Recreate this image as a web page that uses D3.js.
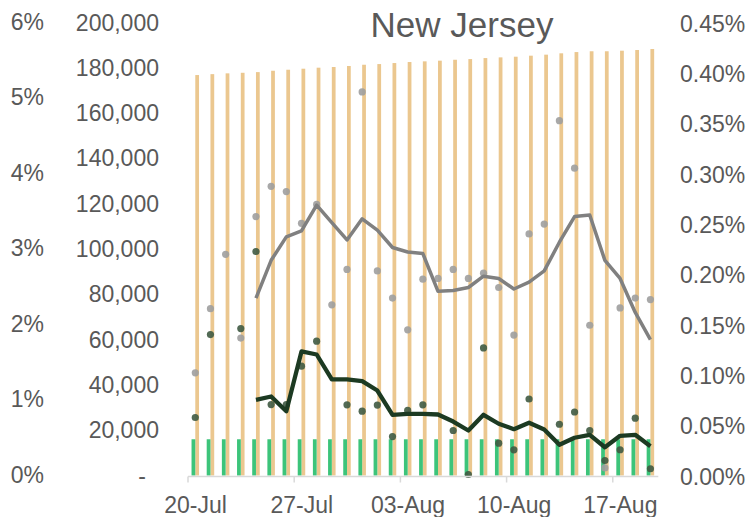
<!DOCTYPE html>
<html><head><meta charset="utf-8">
<script src="https://cdn.jsdelivr.net/npm/d3@7"></script>
<style>
body{margin:0;background:#fff}
text{font-family:"Liberation Sans", Arial, sans-serif;fill:#595959}
</style>
</head><body>
<svg id="c" width="749" height="517"></svg>
<script>
const dates = ["20-Jul","21-Jul","22-Jul","23-Jul","24-Jul","25-Jul","26-Jul","27-Jul","28-Jul","29-Jul","30-Jul","31-Jul",
  "01-Aug","02-Aug","03-Aug","04-Aug","05-Aug","06-Aug","07-Aug","08-Aug","09-Aug","10-Aug","11-Aug","12-Aug","13-Aug",
  "14-Aug","15-Aug","16-Aug","17-Aug","18-Aug","19-Aug"];
const tickDates = ["20-Jul","27-Jul","03-Aug","10-Aug","17-Aug"];
// cumulative count (tan bars, left count axis)
const totalBars = [176800,177200,177550,177800,178100,178700,179150,179600,180050,180350,180800,181350,
  181650,182100,182550,182850,183150,183550,183850,184300,184600,184900,185350,185800,186400,
  186950,187300,187300,187550,187850,188300];
// daily count (green bars, left count axis)
const greenBars = [16000,16000,16000,16000,16000,16000,16000,16000,16000,16000,16000,16000,16000,16000,16000,16000,
  16000,16000,16000,16000,16000,16000,16000,16000,16000,16000,16000,16000,16000,16000,16000];
// daily rate (grey dots, left % axis)
const greyDots = [1.36,2.21,2.93,1.82,3.43,3.83,3.76,3.34,3.59,2.26,2.73,5.08,2.71,2.35,1.93,2.60,2.61,2.73,2.61,2.68,
  2.49,1.86,3.20,3.33,4.70,4.07,1.99,0.10,2.22,2.35,2.33];
// 7-day average of grey series (left % axis)
const greyAvg = [null,null,null,null,2.35,2.85,3.16,3.24,3.58,3.35,3.12,3.40,3.25,3.02,2.96,2.94,2.44,2.45,2.49,2.64,
  2.61,2.47,2.56,2.71,3.09,3.43,3.45,2.85,2.61,2.16,1.80];
// daily rate (dark green dots, right % axis)
const darkDots = [0.0576,0.140,null,0.146,0.2225,0.0705,0.0705,0.1086,0.1334,null,0.0702,0.0639,0.0700,0.0387,0.0646,
  0.0702,null,0.0447,0.0010,0.1267,0.0321,0.0255,0.0760,null,0.0509,0.0631,0.0447,0.0149,0.0256,0.0569,0.0067];
// 7-day average of dark green series (right % axis)
const darkAvg = [null,null,null,null,0.0752,0.0785,0.0639,0.1232,0.1202,0.0954,0.0954,0.0937,0.0844,0.0603,0.0613,
  0.0613,0.0606,0.0536,0.0447,0.0603,0.0514,0.0460,0.0524,0.0457,0.0305,0.0375,0.0404,0.0281,0.0394,0.0404,0.0291];
const countTicks = [0,20000,40000,60000,80000,100000,120000,140000,160000,180000,200000];
const leftPctTicks = [0,1,2,3,4,5,6];
const rightPctTicks = [0,0.05,0.10,0.15,0.20,0.25,0.30,0.35,0.40,0.45];
const title = "New Jersey";

const svg = d3.select("#c");
const X0 = 188, X1 = 658.3, Y0 = 475.5, Y1 = 22.5;

const x = d3.scaleBand().domain(dates).range([X0, X1]).paddingInner(0).paddingOuter(0);
const xs = d3.scaleBand().domain(["g","t"]).range([0, x.bandwidth()]).paddingInner(0).paddingOuter(1.02);
const yCount = d3.scaleLinear().domain([0, 200000]).range([Y0, Y1]);
const yLeft = d3.scaleLinear().domain([0, 6]).range([Y0, Y1]);
const yRight = d3.scaleLinear().domain([0, 0.45]).range([Y0, Y1]);

// tan bars
svg.append("g").selectAll("rect").data(totalBars).join("rect")
  .attr("x", (d,i) => x(dates[i]) + xs("t") - 0.3)
  .attr("width", xs.bandwidth())
  .attr("y", d => yCount(d))
  .attr("height", d => Y0 - yCount(d))
  .attr("fill", "#EBC78F");
// green bars
svg.append("g").selectAll("rect").data(greenBars).join("rect")
  .attr("x", (d,i) => x(dates[i]) + xs("g") - 0.3)
  .attr("width", xs.bandwidth())
  .attr("y", d => yCount(d))
  .attr("height", d => Y0 - yCount(d))
  .attr("fill", "#3CC47A");

const cx = i => x(dates[i]) + x.bandwidth()/2 - 0.3;

// dots
svg.append("g").selectAll("circle").data(greyDots.map((v,i)=>({v,i})).filter(d=>d.v!=null)).join("circle")
  .attr("cx", d => cx(d.i)).attr("cy", d => yLeft(d.v)).attr("r", 3.6)
  .attr("fill", "#9E9E9E").attr("fill-opacity", 0.9);
svg.append("g").selectAll("circle").data(darkDots.map((v,i)=>({v,i})).filter(d=>d.v!=null)).join("circle")
  .attr("cx", d => cx(d.i)).attr("cy", d => yRight(d.v)).attr("r", 3.6)
  .attr("fill", "#3F5A42").attr("fill-opacity", 0.9);

// lines
const lineL = d3.line().defined(d => d.v != null).x(d => cx(d.i)).y(d => yLeft(d.v));
const lineR = d3.line().defined(d => d.v != null).x(d => cx(d.i)).y(d => yRight(d.v));
svg.append("path").datum(greyAvg.map((v,i)=>({v,i}))).attr("d", lineL)
  .attr("fill","none").attr("stroke","#808080").attr("stroke-width",3.5).attr("stroke-linejoin","round");
svg.append("path").datum(darkAvg.map((v,i)=>({v,i}))).attr("d", lineR)
  .attr("fill","none").attr("stroke","#1C3A22").attr("stroke-width",4.3).attr("stroke-linejoin","round");

// x axis
const ax = svg.append("g");
ax.append("line").attr("x1", X0).attr("x2", X1).attr("y1", Y0+1).attr("y2", Y0+1)
  .attr("stroke","#D9D9D9").attr("stroke-width",1.5);
ax.selectAll("line.t").data(tickDates).join("line").attr("class","t")
  .attr("x1", d => x(d)).attr("x2", d => x(d)).attr("y1", Y0+1).attr("y2", Y0+7)
  .attr("stroke","#D9D9D9").attr("stroke-width",1.5);
ax.selectAll("text").data(tickDates).join("text")
  .attr("x", d => x(d) + x.bandwidth()/2).attr("y", 513)
  .attr("text-anchor","middle").attr("font-size", 23).text(d => d);

// count axis
const fmt = d3.format(",");
svg.append("g").selectAll("text").data(countTicks).join("text")
  .attr("x", d => d === 0 ? 146 : 159).attr("y", d => yCount(d))
  .attr("dy","0.35em").attr("text-anchor","end").attr("font-size",23)
  .text(d => d === 0 ? "-" : fmt(d));
// left pct axis
svg.append("g").selectAll("text").data(leftPctTicks).join("text")
  .attr("x", 44).attr("y", d => yLeft(d) - 1)
  .attr("dy","0.35em").attr("text-anchor","end").attr("font-size",23)
  .text(d => d + "%");
// right pct axis
svg.append("g").selectAll("text").data(rightPctTicks).join("text")
  .attr("x", 680).attr("y", d => yRight(d) + 1)
  .attr("dy","0.35em").attr("text-anchor","start").attr("font-size",23)
  .text(d => d3.format(".2f")(d) + "%");

// title
svg.append("text").attr("x", 462).attr("y", 36.5).attr("text-anchor","middle")
  .attr("font-size", 35).text(title);
</script>
</body></html>
